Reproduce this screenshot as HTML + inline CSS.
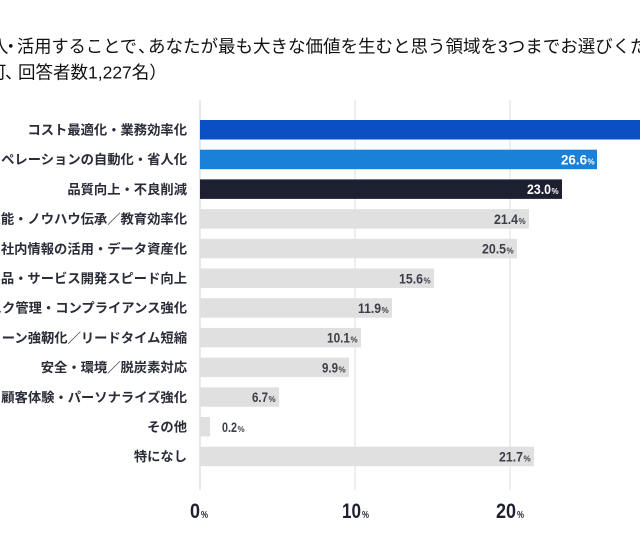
<!DOCTYPE html>
<html>
<head>
<meta charset="utf-8">
<style>
html,body{margin:0;padding:0;background:#fff;}
svg{display:block;}
.t{font-family:"Liberation Sans","Noto Sans CJK JP",sans-serif;font-size:17.5px;fill:#111;}
.lb{font-family:"Liberation Sans","Noto Sans CJK JP",sans-serif;font-size:13.3px;font-weight:700;fill:#2a2d38;}
.v{font-family:"Liberation Sans",sans-serif;font-size:14px;font-weight:700;}
.p{font-family:"Liberation Sans",sans-serif;font-size:8px;font-weight:700;}
.tk{font-family:"Liberation Sans",sans-serif;font-size:21px;font-weight:700;fill:#1e2130;}
.tp{font-family:"Liberation Sans",sans-serif;font-size:10px;font-weight:700;fill:#1e2130;}
</style>
</head>
<body>
<svg width="640" height="540" viewBox="0 0 640 540" xmlns="http://www.w3.org/2000/svg">
<rect width="640" height="540" fill="#fff"/>
<!-- title -->
<text class="t" x="-9" y="52.5">入</text>
<text class="t" x="2" y="52.5">・</text>
<text class="t" x="17" y="52.5" textLength="120" lengthAdjust="spacingAndGlyphs">活用することで</text>
<text class="t" x="138" y="52.5">、</text>
<text class="t" x="148" y="52.5">あなたが最も大きな価値を生むと思う領域を3つまでお選びください。</text>
<text class="t" x="-11" y="78.6">可</text>
<text class="t" x="5" y="78.6">、</text>
<text class="t" x="18" y="78.6">回答者数1,227名）</text>

<!-- grid -->
<line x1="355" y1="100" x2="355" y2="490" stroke="#e8e8e8" stroke-width="1.5"/>
<line x1="510" y1="100" x2="510" y2="490" stroke="#e8e8e8" stroke-width="1.5"/>
<line x1="200" y1="100" x2="200" y2="490" stroke="#e2e2e2" stroke-width="1.5"/>

<!-- bars -->
<rect x="200" y="120" width="450" height="19.5" fill="#0a4fc4"/>
<rect x="200" y="149.7" width="397" height="19.5" fill="#1a80d8"/>
<rect x="200" y="179.4" width="362" height="19.5" fill="#1c2030"/>
<rect x="200" y="209.1" width="329" height="19.5" fill="#e0e0e0"/>
<rect x="200" y="238.8" width="317" height="19.5" fill="#e0e0e0"/>
<rect x="200" y="268.5" width="234" height="19.5" fill="#e0e0e0"/>
<rect x="200" y="298.2" width="192" height="19.5" fill="#e0e0e0"/>
<rect x="200" y="327.9" width="161" height="19.5" fill="#e0e0e0"/>
<rect x="200" y="357.6" width="149" height="19.5" fill="#e0e0e0"/>
<rect x="200" y="387.3" width="79" height="19.5" fill="#e0e0e0"/>
<rect x="200" y="417" width="10" height="19.5" fill="#e0e0e0"/>
<rect x="200" y="446.7" width="334" height="19.5" fill="#e0e0e0"/>

<!-- category labels -->
<g text-anchor="end">
<text class="lb" x="187" y="134.5">コスト最適化・業務効率化</text>
<text class="lb" x="187" y="164.2">オペレーションの自動化・省人化</text>
<text class="lb" x="187" y="193.9">品質向上・不良削減</text>
<text class="lb" x="187" y="223.6">技能・ノウハウ伝承／教育効率化</text>
<text class="lb" x="187" y="253.3">社内情報の活用・データ資産化</text>
<text class="lb" x="187" y="283">製品・サービス開発スピード向上</text>
<text class="lb" x="187" y="312.7">リスク管理・コンプライアンス強化</text>
<text class="lb" x="187" y="342.4">サプライチェーン強靭化／リードタイム短縮</text>
<text class="lb" x="187" y="372.1">安全・環境／脱炭素対応</text>
<text class="lb" x="187" y="401.8">顧客体験・パーソナライズ強化</text>
<text class="lb" x="187" y="431.5">その他</text>
<text class="lb" x="187" y="461.2">特になし</text>
</g>

<!-- value labels -->
<g>
<text class="v" fill="#ffffff" x="561" y="164.5" textLength="26" lengthAdjust="spacingAndGlyphs">26.6</text>
<text class="p" fill="#ffffff" x="587.5" y="164.5">%</text>
<text class="v" fill="#ffffff" x="527" y="194.2" textLength="24" lengthAdjust="spacingAndGlyphs">23.0</text>
<text class="p" fill="#ffffff" x="551.5" y="194.2">%</text>

<text class="v" fill="#3b3e48" x="494" y="223.9" textLength="24" lengthAdjust="spacingAndGlyphs">21.4</text>
<text class="p" fill="#3b3e48" x="518.5" y="223.9">%</text>
<text class="v" fill="#3b3e48" x="482" y="253.6" textLength="24" lengthAdjust="spacingAndGlyphs">20.5</text>
<text class="p" fill="#3b3e48" x="506.5" y="253.6">%</text>
<text class="v" fill="#3b3e48" x="399" y="283.3" textLength="24" lengthAdjust="spacingAndGlyphs">15.6</text>
<text class="p" fill="#3b3e48" x="423.5" y="283.3">%</text>
<text class="v" fill="#3b3e48" x="358" y="313" textLength="23" lengthAdjust="spacingAndGlyphs">11.9</text>
<text class="p" fill="#3b3e48" x="381.5" y="313">%</text>
<text class="v" fill="#3b3e48" x="327" y="342.7" textLength="23" lengthAdjust="spacingAndGlyphs">10.1</text>
<text class="p" fill="#3b3e48" x="350.5" y="342.7">%</text>
<text class="v" fill="#3b3e48" x="322" y="372.4" textLength="16" lengthAdjust="spacingAndGlyphs">9.9</text>
<text class="p" fill="#3b3e48" x="338.5" y="372.4">%</text>
<text class="v" fill="#3b3e48" x="252" y="402.1" textLength="16" lengthAdjust="spacingAndGlyphs">6.7</text>
<text class="p" fill="#3b3e48" x="268.5" y="402.1">%</text>
<text class="v" fill="#3b3e48" x="222" y="431.8" textLength="15" lengthAdjust="spacingAndGlyphs">0.2</text>
<text class="p" fill="#3b3e48" x="237.5" y="431.8">%</text>
<text class="v" fill="#3b3e48" x="499" y="461.5" textLength="24" lengthAdjust="spacingAndGlyphs">21.7</text>
<text class="p" fill="#3b3e48" x="523.5" y="461.5">%</text>
</g>

<!-- ticks -->
<text class="tk" x="190" y="518" textLength="10" lengthAdjust="spacingAndGlyphs">0</text>
<text class="tp" x="201" y="518" textLength="7" lengthAdjust="spacingAndGlyphs">%</text>
<text class="tk" x="342" y="518" textLength="19" lengthAdjust="spacingAndGlyphs">10</text>
<text class="tp" x="362" y="518" textLength="7" lengthAdjust="spacingAndGlyphs">%</text>
<text class="tk" x="496" y="518" textLength="20" lengthAdjust="spacingAndGlyphs">20</text>
<text class="tp" x="517" y="518" textLength="7" lengthAdjust="spacingAndGlyphs">%</text>
</svg>
</body>
</html>
